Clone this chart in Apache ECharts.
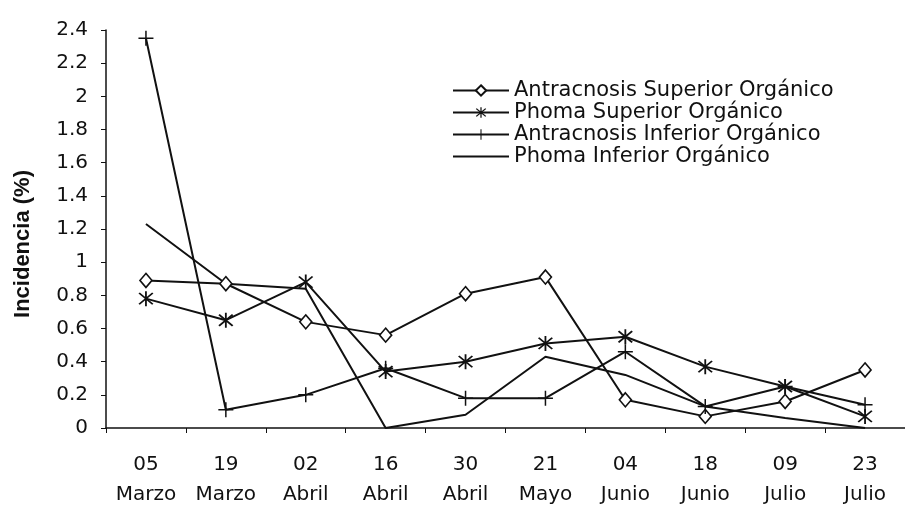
<!DOCTYPE html>
<html>
<head>
<meta charset="utf-8">
<script src="https://cdn.jsdelivr.net/npm/echarts@6/dist/echarts.min.js"></script>
<style>
  html, body { margin: 0; padding: 0; background: #fff; }
  #chart { width: 905px; height: 510px; }
</style>
</head>
<body>
<div id="chart"></div>
<script>
const fechas = ["05\nMarzo", "19\nMarzo", "02\nAbril", "16\nAbril", "30\nAbril", "21\nMayo", "04\nJunio", "18\nJunio", "09\nJulio", "23\nJulio"];
const antracnosisSuperior = [0.89, 0.87, 0.64, 0.56, 0.81, 0.91, 0.17, 0.07, 0.16, 0.35];
const phomaSuperior = [0.78, 0.65, 0.88, 0.34, 0.40, 0.51, 0.55, 0.37, 0.25, 0.07];
const antracnosisInferior = [2.35, 0.11, 0.20, 0.36, 0.18, 0.18, 0.46, 0.13, 0.25, 0.14];
const phomaInferior = [1.23, 0.87, 0.84, 0.00, 0.08, 0.43, 0.32, 0.13, 0.06, 0.00];
const nombres = ["Antracnosis Superior Orgánico", "Phoma Superior Orgánico", "Antracnosis Inferior Orgánico", "Phoma Inferior Orgánico"];

const ink = "#111";
// asterisk: vertical bar plus two diagonals
const starPath = "path://M-0.8,-8 L0.8,-8 L0.8,8 L-0.8,8 Z M-6.6,-5.4 L-5.4,-6.6 L6.6,5.4 L5.4,6.6 Z M5.4,-6.6 L6.6,-5.4 L-5.4,6.6 L-6.6,5.4 Z";
const plusPath = "path://M-0.8,-8 L0.8,-8 L0.8,8 L-0.8,8 Z M-8,-0.8 L8,-0.8 L8,0.8 L-8,0.8 Z";

const chart = echarts.init(document.getElementById("chart"), null, { renderer: "canvas" });

function linea(name, data, symbol, size, fill) {
  return {
    name,
    type: "line",
    data,
    symbol,
    symbolSize: size,
    showSymbol: symbol !== "none",
    lineStyle: { color: ink, width: 2 },
    itemStyle: { color: fill, borderColor: ink, borderWidth: fill === "#fff" ? 1.6 : 0 },
    emphasis: { disabled: true },
  };
}

chart.setOption({
  animation: false,
  backgroundColor: "#fff",
  textStyle: { fontFamily: "DejaVu Sans", color: ink },
  grid: { left: 106, top: 30, width: 803, bottom: 82 },
  legend: {
    orient: "vertical",
    left: 447,
    top: 75,
    itemWidth: 56,
    itemHeight: 13,
    itemGap: 1,
    textStyle: { fontSize: 21, color: ink, fontFamily: "DejaVu Sans", lineHeight: 14 },
    data: [
      nombres[0],
      nombres[1],
      nombres[2],
      // plain line, no marker in the key
      { name: nombres[3], itemStyle: { color: "rgba(0,0,0,0)", borderWidth: 0 } },
    ],
  },
  xAxis: {
    type: "category",
    data: fechas,
    boundaryGap: true,
    axisLine: { lineStyle: { color: ink, width: 1.5 } },
    axisTick: { show: true, length: 5, alignWithLabel: false, lineStyle: { color: ink } },
    axisLabel: { fontSize: 20, color: ink, lineHeight: 30, margin: 22, interval: 0 },
  },
  yAxis: {
    type: "value",
    min: 0,
    max: 2.4,
    interval: 0.2,
    name: "Incidencia (%)",
    nameLocation: "middle",
    nameGap: 72,
    nameTextStyle: { fontSize: 22, fontWeight: "bold", color: ink, fontFamily: "Liberation Sans", padding: [0, 30, 0, 0] },
    axisLine: { show: true, lineStyle: { color: ink, width: 1.5 } },
    axisTick: { show: true, length: 5, lineStyle: { color: ink } },
    splitLine: { show: false },
    axisLabel: { fontSize: 20, color: ink, margin: 18 },
  },
  series: [
    linea(nombres[0], antracnosisSuperior, "diamond", [12, 14], "#fff"),
    linea(nombres[1], phomaSuperior, starPath, 15, ink),
    linea(nombres[2], antracnosisInferior, plusPath, 15, ink),
    linea(nombres[3], phomaInferior, "none", 0, ink),
  ],
});
</script>
</body>
</html>
